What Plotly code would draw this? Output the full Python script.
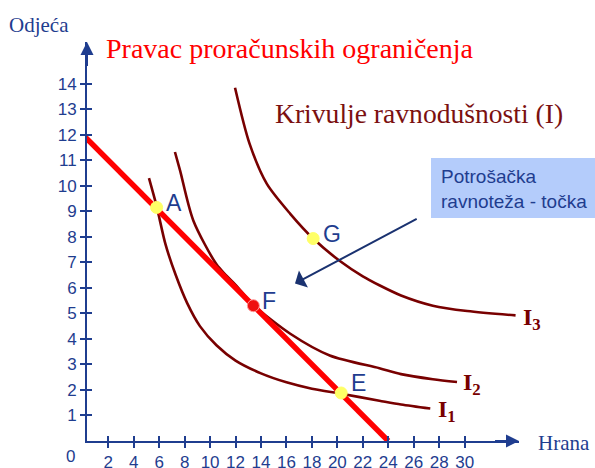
import plotly.graph_objects as go

# ---- data ----
budget_x = [0, 24]
budget_y = [12, 0]

i1_x = [5.2, 5.8, 6.5, 7.3, 8.2, 9.2, 10.5, 12.0, 14.0, 16.0, 18.0, 20.3, 23.3, 25.0, 27.3]
i1_y = [10.3, 9.2, 7.7, 6.5, 5.4, 4.5, 3.75, 3.15, 2.65, 2.3, 2.05, 1.85, 1.58, 1.43, 1.27]

i2_x = [7.24, 7.64, 8.68, 10.5, 11.2, 12.0, 13.4, 16.3, 19.4, 23.3, 25.0, 27.5, 29.4]
i2_y = [11.32, 10.6, 8.64, 6.92, 6.52, 6.12, 5.33, 4.2, 3.35, 2.85, 2.62, 2.42, 2.31]

i3_x = [11.96, 13.1, 14.45, 16.3, 18.1, 20.2, 22.0, 23.3, 25.0, 27.5, 30.2, 34.0]
i3_y = [13.84, 11.65, 10.08, 8.9, 7.93, 7.05, 6.45, 6.1, 5.7, 5.3, 5.09, 4.92]

point_labels = ["A", "F", "E", "G"]
point_x = [5.8, 13.4, 20.3, 18.1]
point_y = [9.15, 5.3, 1.88, 7.93]
point_colors = ["#FFFF66", "#EE1111", "#FFFF66", "#FFFF66"]

x_ticks = [2, 4, 6, 8, 10, 12, 14, 16, 18, 20, 22, 24, 26, 28, 30]
y_ticks = list(range(1, 15))

# ---- styles / layout geometry ----
W, H = 595, 468
L, R, T, B = 87, 76, 42, 27
PW, PH = W - L - R, H - T - B
XR = [0.33, 34.27]
YR = [0, 15.63]
AXC = "#1F3D8F"
CURVE = "#780000"
SERIF = "Liberation Serif, Times New Roman, serif"
SANS = "Liberation Sans, Arial, sans-serif"


def px(x):
    return (x - L) / PW


def py(y):
    return (H - B - y) / PH


def paper_text(text, x, y, font, xanchor="left", **kw):
    fig.add_annotation(xref="paper", yref="paper", x=px(x), y=py(y), text=text, showarrow=False,
                       xanchor=xanchor, yanchor="middle", font=font, **kw)


fig = go.Figure()

for cx, cy in [(i1_x, i1_y), (i2_x, i2_y), (i3_x, i3_y)]:
    fig.add_trace(go.Scatter(x=cx, y=cy, mode="lines",
                             line=dict(color=CURVE, width=2.6, shape="spline", smoothing=0.8),
                             hoverinfo="skip", showlegend=False, cliponaxis=False))

fig.add_trace(go.Scatter(x=budget_x, y=budget_y, mode="lines",
                         line=dict(color="#FF0000", width=5.5),
                         showlegend=False, cliponaxis=False))

fig.add_trace(go.Scatter(x=point_x, y=point_y, mode="markers",
                         marker=dict(size=12, color=point_colors,
                                     line=dict(color=["#FFFF66", "#FF9999", "#FFFF66", "#FFFF66"], width=1)),
                         showlegend=False, cliponaxis=False))

# invisible trace to activate overlay axes (crossing ticks)
fig.add_trace(go.Scatter(x=[XR[0]], y=[YR[0]], xaxis="x2", yaxis="y2", mode="markers",
                         marker=dict(opacity=0), showlegend=False, hoverinfo="skip"))

label_shifts = [(17, 4), (16, 5), (17, 10), (19, 5)]
for lab, x, y, (dx, dy) in zip(point_labels, point_x, point_y, label_shifts):
    fig.add_annotation(x=x, y=y, text=lab, showarrow=False, xshift=dx, yshift=dy,
                       xanchor="center", yanchor="middle",
                       font=dict(family=SANS, size=23, color=AXC))

# curve labels
for txt, cxp, cyp in [("<b>I<sub>1</sub></b>", 447, 411), ("<b>I<sub>2</sub></b>", 472, 384),
                      ("<b>I<sub>3</sub></b>", 532, 319)]:
    paper_text(txt, cxp, cyp, dict(family=SERIF, size=24, color=CURVE), xanchor="center")

# texts
paper_text("Odjeća", 7, 25, dict(family=SERIF, size=21, color=AXC))
paper_text("Pravac proračunskih ograničenja", 104, 48, dict(family=SERIF, size=28, color="#FF0000"))
paper_text("Krivulje ravnodušnosti (I)", 273, 113, dict(family=SERIF, size=27.6, color="#7B1010"))
paper_text("Hrana", 536, 443, dict(family=SERIF, size=21, color=AXC))
paper_text("0", 70, 456, dict(family=SANS, size=17, color=AXC), xanchor="center")

# callout box
fig.add_shape(type="rect", xref="paper", yref="paper", x0=px(431), x1=px(640), y0=py(218), y1=py(158),
              fillcolor="#B4CCFB", line=dict(width=0), layer="below")
paper_text("Potrošačka<br>ravnoteža - točka", 439, 189, dict(family=SANS, size=19, color="#1F3D8F"),
           align="left")
# callout arrow
fig.add_annotation(x=16.67, y=6.17, ax=26.35, ay=8.73, xref="x", yref="y", axref="x", ayref="y",
                   text="", showarrow=True, arrowhead=1, arrowsize=1.6, arrowwidth=2, arrowcolor="#1A3270")

# axis arrowheads
fig.add_annotation(x=XR[1], y=0, ax=XR[1] - 2, ay=0, xref="x", yref="y", axref="x", ayref="y",
                   text="", showarrow=True, arrowhead=2, arrowsize=1.3, arrowwidth=2, arrowcolor=AXC)
fig.add_annotation(x=XR[0], y=YR[1], ax=XR[0], ay=YR[1] - 1, xref="x", yref="y", axref="x", ayref="y",
                   text="", showarrow=True, arrowhead=2, arrowsize=1.3, arrowwidth=2, arrowcolor=AXC)

tickfont = dict(family=SANS, size=17, color=AXC)
fig.update_layout(
    width=W, height=H, margin=dict(l=L, r=R, t=T, b=B, autoexpand=False),
    plot_bgcolor="white", paper_bgcolor="white", showlegend=False,
    xaxis=dict(range=XR, showgrid=False, zeroline=False, showline=True, linecolor=AXC, linewidth=2,
               tickmode="array", tickvals=x_ticks, ticktext=[str(v) for v in x_ticks],
               ticks="outside", ticklen=5, tickwidth=1.5, tickcolor=AXC, tickfont=tickfont,
               ticklabelstandoff=0, automargin=False),
    yaxis=dict(range=YR, showgrid=False, zeroline=False, showline=True, linecolor=AXC, linewidth=2,
               tickmode="array", tickvals=y_ticks, ticktext=[str(v) for v in y_ticks],
               ticks="outside", ticklen=5, tickwidth=1.5, tickcolor=AXC, tickfont=tickfont,
               automargin=False),
    xaxis2=dict(range=XR, overlaying="x", anchor="y2", side="bottom", showgrid=False, zeroline=False,
                showline=False, tickmode="array", tickvals=x_ticks, ticks="inside", ticklen=5,
                tickwidth=1.5, tickcolor=AXC, showticklabels=False, automargin=False),
    yaxis2=dict(range=YR, overlaying="y", anchor="x2", side="left", showgrid=False, zeroline=False,
                showline=False, tickmode="array", tickvals=y_ticks, ticks="inside", ticklen=5,
                tickwidth=1.5, tickcolor=AXC, showticklabels=False, automargin=False),
)

fig.write_html("out.html", config={"displayModeBar": False},
               post_script="document.body.style.margin='0px';")
